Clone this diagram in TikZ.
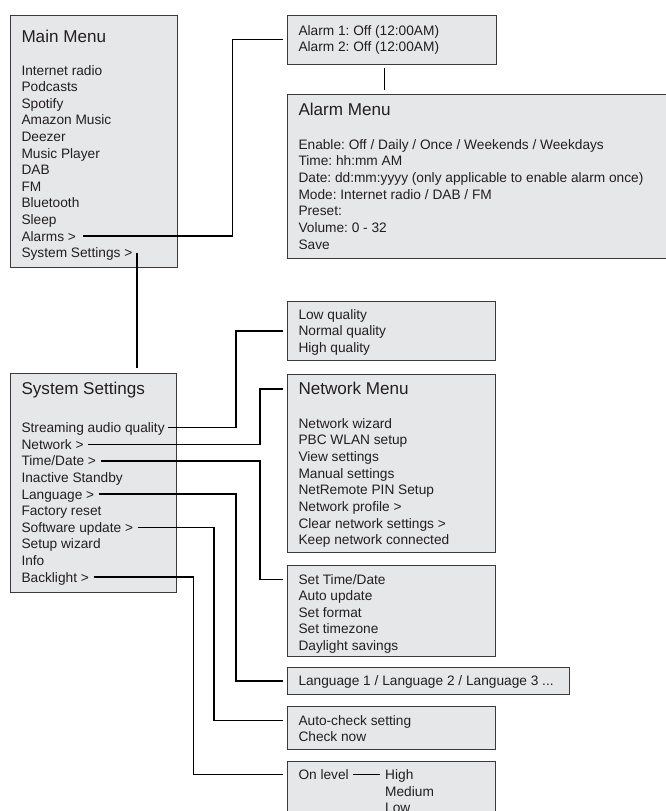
\documentclass[tikz,border=0pt]{standalone}
\usepackage{fontspec}
\setmainfont{Liberation Sans}
\usetikzlibrary{positioning}
\frenchspacing

\definecolor{boxgray}{HTML}{E6E7E8}
\definecolor{boxline}{HTML}{3A3A3A}
\definecolor{inkgray}{HTML}{231F20}

\tikzset{
	menubox/.style={ draw=boxline, line width=1pt, fill=boxgray, anchor=north west, inner sep=0pt, outer sep=0pt },
	menuitem/.style={ anchor=west, inner sep=0pt, text height=12pt, text depth=2pt, text=inkgray, font=\fontsize{13.7}{16}\selectfont },
	menutitle/.style={ anchor=west, inner sep=0pt, text height=14pt, text depth=3pt, text=inkgray, font=\fontsize{17.1}{20}\selectfont },
	link/.style={ draw=black, line width=1.5pt, shorten <=4.5pt, shorten >=4.6pt },
}

\begin{document}
\begin{tikzpicture}[ x=1pt, y=-1pt ]

	\def\leftx{21.3}
	\def\rightx{298.3}
	\def\rowgap{16.6}

	\useasboundingbox (0, 0) rectangle (666, 811);

	% boxes
	\node[ menubox, minimum width=166.3pt, minimum height=252pt ] (mainbox) at (10.7, 15) {};
	\node[ menubox, minimum width=208.7pt, minimum height=49pt ] (alarmbox) at (287.3, 15) {};
	\node[ menubox, minimum width=390pt, minimum height=164pt ] (amenu) at (287.3, 94.3) {};
	\node[ menubox, minimum width=166pt, minimum height=219pt ] (ssbox) at (10.7, 373.3) {};
	\node[ menubox, minimum width=208.4pt, minimum height=59pt ] (qbox) at (287.3, 301.7) {};
	\node[ menubox, minimum width=208.4pt, minimum height=178.7pt ] (netbox) at (287.3, 374) {};
	\node[ menubox, minimum width=208.4pt, minimum height=91pt ] (tdbox) at (287.3, 565.7) {};
	\node[ menubox, minimum width=281.7pt, minimum height=27pt ] (langbox) at (287.3, 667.3) {};
	\node[ menubox, minimum width=208.4pt, minimum height=42.3pt ] (swbox) at (287.3, 706.7) {};
	\node[ menubox, minimum width=208.4pt, minimum height=70pt ] (blbox) at (287.3, 761.3) {};

	% main menu
	\node[ menutitle ] (maintitle) at (\leftx, 37) {Main Menu};
	\foreach \txt [count=\i] in {Internet radio, Podcasts, Spotify, Amazon Music, Deezer, Music Player, DAB, FM, Bluetooth, Sleep, Alarms >, System Settings >}
		\node[ menuitem ] (mm\i) at (\leftx, 70+\rowgap*\i-\rowgap) {\txt};

	% alarms
	\node[ menuitem ] (al1) at (\rightx, 30.7) {Alarm 1: Off (12:00AM)};
	\node[ menuitem ] (al2) at (\rightx, 46.7) {Alarm 2: Off (12:00AM)};

	\node[ menutitle ] (alarmtitle) at (\rightx, 110) {Alarm Menu};
	\foreach \txt [count=\i] in {Enable: Off / Daily / Once / Weekends / Weekdays, Time: hh:mm AM, Date: dd:mm:yyyy (only applicable to enable alarm once), Mode: Internet radio / DAB / FM, Preset:, Volume: 0 - 32, Save}
		\node[ menuitem ] (am\i) at (\rightx, 144.3+16.67*\i-16.67) {\txt};

	% system settings
	\node[ menutitle ] (sstitle) at (\leftx, 389.3) {System Settings};
	\foreach \txt [count=\i] in {Streaming audio quality, Network >, Time/Date >, Inactive Standby, Language >, Factory reset, Software update >, Setup wizard, Info, Backlight >}
		\node[ menuitem ] (ss\i) at (\leftx, 427.7+\rowgap*\i-\rowgap) {\txt};

	% sub menus
	\foreach \txt [count=\i] in {Low quality, Normal quality, High quality}
		\node[ menuitem ] (q\i) at (\rightx, 314.3+16.5*\i-16.5) {\txt};

	\node[ menutitle ] (nettitle) at (\rightx, 389) {Network Menu};
	\foreach \txt [count=\i] in {Network wizard, PBC WLAN setup, View settings, Manual settings, NetRemote PIN Setup, Network profile >, Clear network settings >, Keep network connected}
		\node[ menuitem ] (net\i) at (\rightx, 423.3+16.67*\i-16.67) {\txt};

	\foreach \txt [count=\i] in {Set Time/Date, Auto update, Set format, Set timezone, Daylight savings}
		\node[ menuitem ] (td\i) at (\rightx, 579.3+16.5*\i-16.5) {\txt};

	\node[ menuitem ] (lang1) at (\rightx, 680.7) {Language 1 / Language 2 / Language 3 ...};

	\node[ menuitem ] (sw1) at (\rightx, 720.3) {Auto-check setting};
	\node[ menuitem ] (sw2) at (\rightx, 736.3) {Check now};

	\node[ menuitem ] (bl1) at (\rightx, 774.7) {On level};
	\node[ menuitem ] (blhigh) at (385, 774.7) {High};
	\node[ menuitem ] (blmed) at (385, 791.3) {Medium};
	\node[ menuitem ] (bllow) at (385, 807.6) {Low};

	% connectors
	\draw[ link, shorten <=7pt ] (mm11.east) -| ([xshift=-54.6pt]alarmbox.west) -- (alarmbox.west);

	\coordinate[ left=7pt of alarmbox.south ] (alarmdrop);
	\draw[ link, shorten <=4.3pt, shorten >=4.3pt ] (alarmdrop) -- (alarmdrop |- amenu.north);

	\coordinate[ right=4.4pt of mm12.east ] (sysdrop);
	\draw[ link, shorten <=0pt, shorten >=5.3pt ] (sysdrop) -- (sysdrop |- ssbox.north);

	\draw[ link, shorten <=3pt ] (ss1.east) -| ([xshift=-51.3pt]qbox.west) -- (qbox.west);
	\draw[ link ] (ss2.east) -| ([xshift=-38.3pt]nettitle.west) -- (nettitle.west -| netbox.west);
	\draw[ link ] (ss3.east) -| ([xshift=-38.3pt]td1.west) -- (td1.west -| tdbox.west);
	\draw[ link ] (ss5.east) -| ([xshift=-51.3pt]langbox.west) -- (langbox.west);
	\draw[ link ] (ss7.east) -| ([xshift=-84.3pt]sw1.west) -- (sw1.west -| swbox.west);
	\draw[ link ] (ss10.east) -| ([xshift=-105pt]bl1.west) -- (bl1.west -| blbox.west);

	\draw[ link, line width=1pt ] (bl1.east) -- (blhigh.west);

\end{tikzpicture}
\end{document}
